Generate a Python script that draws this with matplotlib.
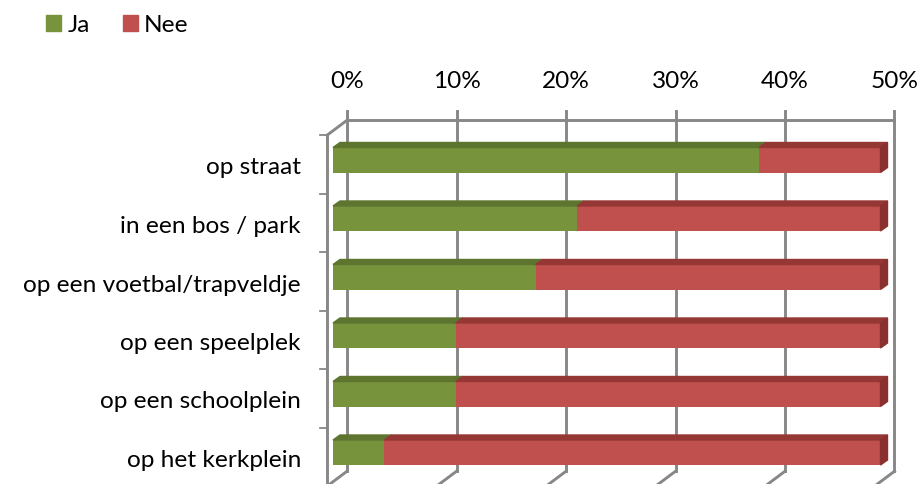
import numpy as np
import matplotlib.pyplot as plt
from matplotlib.patches import Polygon, Patch

plt.rcParams['font.family'] = ['Lato', 'DejaVu Sans']

categories = ['op straat', 'in een bos / park', 'op een voetbal/trapveldje',
              'op een speelplek', 'op een schoolplein', 'op het kerkplein']
ja = [38.9, 22.3, 18.5, 11.2, 11.2, 4.7]
nee = [11.1, 27.7, 31.5, 38.8, 38.8, 45.3]
ticks = [0, 10, 20, 30, 40, 50]
tick_labels = ['0%', '10%', '20%', '30%', '40%', '50%']

green, green_top = '#77933C', '#5E7530'
red, red_top, red_side = '#C0504D', '#953735', '#8A302E'
grid = '#878787'
fs = 17.6

fig = plt.figure(figsize=(9.18, 4.84), dpi=100)
ax = fig.add_axes([333 / 918, 2.25 / 484, 547.5 / 918, 351 / 484])
ax.set_xlim(0, 50)
ax.set_ylim(5.5, -0.5)
ax.axis('off')

# pixels per data unit, used for the fake 3d depth
sx = ax.bbox.width / 50
sy = ax.bbox.height / 6


def d(dx, dy):
    return dx / sx, dy / sy


bdx, bdy = d(14, -10.5)   # back wall
fdx, fdy = d(-6, 4.5)     # front of floor / left wall
kdx, kdy = d(7, -5)       # bar depth

lw = 2.1
# back wall grid + floor lines
for t in ticks:
    ax.plot([t + bdx] * 2, [-0.5 + bdy - 9 / sy, 5.5 + bdy], color=grid, lw=lw,
            clip_on=False, zorder=1)
    ax.plot([t + bdx, t + fdx], [5.5 + bdy, 5.5 + fdy], color=grid, lw=lw,
            clip_on=False, zorder=1)
ax.plot([bdx, 50 + bdx], [-0.5 + bdy] * 2, color=grid, lw=lw, clip_on=False, zorder=1)
# left wall
ax.plot([fdx, fdx], [-0.5 + fdy, 5.5 + fdy], color=grid, lw=lw, clip_on=False, zorder=1)
ax.plot([bdx, fdx], [-0.5 + bdy, -0.5 + fdy], color=grid, lw=lw, clip_on=False, zorder=1)
for b in np.arange(-0.5, 6):
    ax.plot([fdx - 7 / sx, fdx], [b + fdy] * 2, color=grid, lw=1.3, clip_on=False, zorder=1)

y = np.arange(len(categories))
h = 25 / sy
ax.barh(y, ja, height=h, color=green, zorder=3)
ax.barh(y, nee, left=ja, height=h, color=red, zorder=3)

for i in range(len(categories)):
    top = i - h / 2
    for left, w, c in [(0, ja[i], green_top), (ja[i], nee[i], red_top)]:
        ax.add_patch(Polygon([(left, top), (left + w, top), (left + w + kdx, top + kdy),
                              (left + kdx, top + kdy)], closed=True, color=c, zorder=3,
                             clip_on=False))
    r = ja[i] + nee[i]
    ax.add_patch(Polygon([(r, top), (r, top + h), (r + kdx, top + h + kdy), (r + kdx, top + kdy)],
                         closed=True, color=red_side, zorder=3, clip_on=False))
    ax.text(-32 / sx, i + 8 / sy, categories[i], ha='right', va='center', fontsize=fs,
            clip_on=False)

for t, lab in zip(ticks, tick_labels):
    ax.text(t + bdx, -0.5 + (82 - 130.75) / sy, lab, ha='center', va='center', fontsize=fs,
            clip_on=False)

fig.legend(handles=[Patch(color=green, label='Ja'), Patch(color=red, label='Nee')],
           loc='upper left', bbox_to_anchor=(46 / 918, 1 - 15 / 484), ncol=2, frameon=False,
           handlelength=0.62, handleheight=0.62, handletextpad=0.25, columnspacing=1.35,
           borderpad=0, borderaxespad=0, fontsize=fs)

fig.savefig('out.png', dpi=100)
